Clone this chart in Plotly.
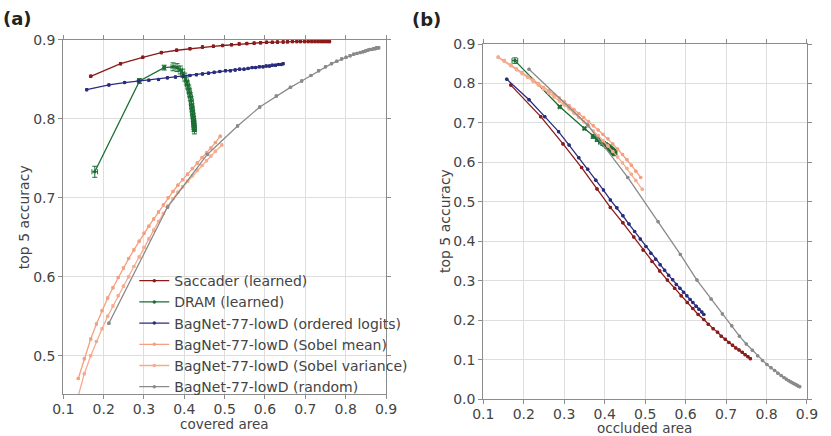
import plotly.graph_objects as go

# ---- data ----
names = ["Saccader (learned)", "DRAM (learned)", "BagNet-77-lowD (ordered logits)",
         "BagNet-77-lowD (Sobel mean)", "BagNet-77-lowD (Sobel variance)", "BagNet-77-lowD (random)"]
colors = ["#8b1a1a", "#1b6e33", "#2a2d7e", "#f4a080", "#f7ab8d", "#8a8a8a"]

sacc_area = [0.168, 0.242, 0.297, 0.343, 0.381, 0.414, 0.445, 0.472, 0.495, 0.517, 0.536, 0.555, 0.573,
             0.589, 0.604, 0.618, 0.631, 0.645, 0.656, 0.668, 0.679, 0.688, 0.698, 0.707, 0.716, 0.724,
             0.732, 0.740, 0.747, 0.754, 0.760]
sacc_cov = [0.854, 0.870, 0.878, 0.884, 0.887, 0.889, 0.891, 0.892, 0.893, 0.894, 0.895, 0.8955, 0.896,
            0.8965, 0.897, 0.897, 0.8973, 0.8975, 0.8977, 0.898, 0.898, 0.898, 0.898, 0.898, 0.898, 0.898,
            0.898, 0.898, 0.898, 0.898, 0.898]
sacc_occ = [0.796, 0.716, 0.647, 0.587, 0.533, 0.486, 0.447, 0.411, 0.378, 0.349, 0.325, 0.302, 0.281,
            0.262, 0.245, 0.230, 0.215, 0.202, 0.190, 0.179, 0.170, 0.160, 0.152, 0.144, 0.137, 0.130,
            0.125, 0.119, 0.113, 0.108, 0.103]

dram_area = [0.178, 0.289, 0.350, 0.372, 0.382, 0.390, 0.396, 0.401, 0.405, 0.408, 0.411, 0.413, 0.415,
             0.417, 0.418, 0.419, 0.420, 0.421, 0.422, 0.423, 0.4235, 0.424, 0.4245, 0.425]
dram_cov = [0.733, 0.848, 0.865, 0.866, 0.865, 0.862, 0.858, 0.853, 0.848, 0.843, 0.838, 0.833, 0.828,
            0.823, 0.818, 0.814, 0.810, 0.806, 0.802, 0.798, 0.795, 0.792, 0.789, 0.786]
dram_occ = [0.858, 0.741, 0.686, 0.666, 0.658, 0.652, 0.648, 0.645, 0.642, 0.640, 0.638, 0.636, 0.634,
            0.632, 0.631, 0.630, 0.629, 0.628, 0.627, 0.626, 0.625, 0.624, 0.623, 0.622]
dram_err = [0.007, 0.003, 0.003, 0.005, 0.005, 0.005, 0.005, 0.005, 0.005, 0.005, 0.005, 0.005, 0.005,
            0.005, 0.005, 0.005, 0.005, 0.005, 0.005, 0.005, 0.005, 0.005, 0.005, 0.005]

logit_area = [0.158, 0.213, 0.252, 0.286, 0.312, 0.336, 0.358, 0.378, 0.397, 0.414, 0.430, 0.445, 0.460,
              0.474, 0.488, 0.502, 0.514, 0.526, 0.537, 0.548, 0.558, 0.568, 0.577, 0.586, 0.595, 0.603,
              0.611, 0.618, 0.626, 0.633, 0.640, 0.645]
logit_cov = [0.837, 0.843, 0.846, 0.848, 0.849, 0.850, 0.852, 0.853, 0.854, 0.855, 0.856, 0.857, 0.858,
             0.859, 0.860, 0.861, 0.861, 0.862, 0.863, 0.863, 0.864, 0.865, 0.865, 0.866, 0.866, 0.867,
             0.867, 0.868, 0.868, 0.869, 0.869, 0.870]
logit_occ = [0.811, 0.759, 0.716, 0.678, 0.644, 0.612, 0.583, 0.555, 0.530, 0.505, 0.485, 0.465, 0.444,
             0.425, 0.406, 0.387, 0.370, 0.355, 0.341, 0.327, 0.314, 0.303, 0.291, 0.281, 0.271, 0.262,
             0.253, 0.245, 0.236, 0.228, 0.221, 0.215]

mean_area = [0.137, 0.152, 0.168, 0.182, 0.196, 0.210, 0.223, 0.236, 0.249, 0.262, 0.275, 0.288, 0.300,
             0.312, 0.324, 0.336, 0.348, 0.360, 0.372, 0.384, 0.396, 0.408, 0.420, 0.432, 0.444, 0.455,
             0.466, 0.477, 0.489]
mean_cov = [0.471, 0.496, 0.521, 0.540, 0.557, 0.573, 0.586, 0.599, 0.611, 0.623, 0.634, 0.645, 0.655,
            0.664, 0.673, 0.682, 0.691, 0.700, 0.708, 0.716, 0.723, 0.730, 0.737, 0.744, 0.751, 0.757,
            0.763, 0.770, 0.778]
mean_occ = [0.867, 0.858, 0.847, 0.837, 0.828, 0.818, 0.809, 0.800, 0.790, 0.781, 0.772, 0.763, 0.754,
            0.744, 0.734, 0.724, 0.714, 0.704, 0.693, 0.682, 0.671, 0.660, 0.647, 0.634, 0.620, 0.607,
            0.593, 0.578, 0.562]

var_area = [0.137, 0.152, 0.168, 0.182, 0.196, 0.210, 0.223, 0.236, 0.249, 0.262, 0.275, 0.288, 0.300,
            0.312, 0.324, 0.336, 0.348, 0.360, 0.372, 0.384, 0.396, 0.408, 0.420, 0.432, 0.444, 0.455,
            0.466, 0.477, 0.493]
var_cov = [0.449, 0.477, 0.500, 0.518, 0.534, 0.550, 0.563, 0.576, 0.588, 0.600, 0.613, 0.625, 0.637,
           0.648, 0.659, 0.670, 0.680, 0.690, 0.699, 0.707, 0.714, 0.721, 0.728, 0.735, 0.741, 0.747,
           0.753, 0.759, 0.767]
var_occ = [0.866, 0.856, 0.845, 0.835, 0.825, 0.815, 0.806, 0.796, 0.786, 0.776, 0.766, 0.756, 0.746,
           0.736, 0.725, 0.714, 0.703, 0.692, 0.680, 0.668, 0.655, 0.642, 0.628, 0.614, 0.599, 0.585,
           0.570, 0.554, 0.532]

rand_area = [0.213, 0.358, 0.457, 0.532, 0.587, 0.628, 0.663, 0.691, 0.714, 0.733, 0.750, 0.765, 0.778,
             0.790, 0.801, 0.811, 0.820, 0.828, 0.836, 0.843, 0.849, 0.855, 0.860, 0.865, 0.869, 0.873,
             0.876, 0.879, 0.882]
rand_cov = [0.541, 0.688, 0.755, 0.791, 0.815, 0.829, 0.840, 0.848, 0.855, 0.861, 0.866, 0.870, 0.873,
            0.876, 0.878, 0.880, 0.882, 0.883, 0.884, 0.885, 0.886, 0.887, 0.888, 0.888, 0.889, 0.889,
            0.890, 0.890, 0.890]
rand_occ = [0.836, 0.695, 0.562, 0.450, 0.367, 0.302, 0.254, 0.216, 0.186, 0.160, 0.140, 0.124, 0.110,
            0.098, 0.088, 0.080, 0.073, 0.066, 0.060, 0.055, 0.051, 0.047, 0.044, 0.041, 0.039, 0.037,
            0.035, 0.033, 0.032]

x_ticks = [0.1, 0.2, 0.3, 0.4, 0.5, 0.6, 0.7, 0.8, 0.9]
y_ticks_a = [0.5, 0.6, 0.7, 0.8, 0.9]
y_ticks_b = [0.0, 0.1, 0.2, 0.3, 0.4, 0.5, 0.6, 0.7, 0.8, 0.9]

series = [
    (sacc_area, sacc_cov, sacc_occ, 0.0015),
    (dram_area, dram_cov, dram_occ, dram_err),
    (logit_area, logit_cov, logit_occ, 0.0012),
    (mean_area, mean_cov, mean_occ, 0.0012),
    (var_area, var_cov, var_occ, 0.0012),
    (rand_area, rand_cov, rand_occ, 0.0012),
]

fig = go.Figure()

for i, (area, cov, occ, err) in enumerate(series):
    for panel, yv in (("", cov), ("2", occ)):
        if isinstance(err, list):
            ex = dict(type="data", array=err, color=colors[i], thickness=1, width=2.5)
        else:
            ex = dict(type="constant", value=err, color=colors[i], thickness=1, width=1.5)
        fig.add_trace(go.Scatter(
            x=area, y=yv, mode="lines+markers", name=names[i],
            line=dict(color=colors[i], width=1.3),
            marker=dict(color=colors[i], size=3.5),
            error_x=ex, error_y=ex,
            xaxis="x" + panel, yaxis="y" + panel,
            showlegend=(panel == ""),
        ))

axis_style = dict(
    showline=True, linecolor="#8c8c8c", linewidth=1.2, mirror="allticks",
    ticks="outside", ticklen=4, tickcolor="#8c8c8c", automargin=False,
    showgrid=True, gridcolor="#dedede", gridwidth=1, zeroline=False,
    tickfont=dict(size=14, color="#444444"), tickformat=".1f",
)

def label(text, x, y, angle=0, size=14, bold=False):
    return dict(text=f"<b>{text}</b>" if bold else text, x=x, y=y, xref="paper", yref="paper",
                xanchor="center", yanchor="middle", textangle=angle, showarrow=False,
                font=dict(size=size, color="#222222" if bold else "#444444"))

fig.update_layout(
    width=831, height=436,
    margin=dict(l=0, r=0, t=0, b=0),
    paper_bgcolor="white", plot_bgcolor="white",
    font=dict(family="DejaVu Sans", color="#444444"),
    xaxis=dict(axis_style, domain=[0.0762, 0.4645], range=[0.1, 0.9], tickvals=x_ticks, anchor="y",
               ticklabelstandoff=-2),
    yaxis=dict(axis_style, domain=[0.0956, 0.9083], range=[0.451, 0.9], tickvals=y_ticks_a, anchor="x"),
    xaxis2=dict(axis_style, domain=[0.5816, 0.9711], range=[0.1, 0.9], tickvals=x_ticks, anchor="y2",
                ticklabelstandoff=-2),
    yaxis2=dict(axis_style, domain=[0.0842, 0.899], range=[0.0, 0.9], tickvals=y_ticks_b, anchor="x2"),
    legend=dict(x=0.1616, y=0.392, xanchor="left", yanchor="top", bgcolor="rgba(0,0,0,0)",
                font=dict(size=14, color="#444444"), tracegroupgap=0, itemwidth=30),
    annotations=[
        label("(a)", 0.0205, 0.958, size=18, bold=True),
        label("(b)", 0.513, 0.955, size=18, bold=True),
        label("covered area", 0.270, 0.028, size=13.5),
        label("occluded area", 0.7756, 0.019, size=13.5),
        label("top 5 accuracy", 0.029, 0.502, angle=-90),
        label("top 5 accuracy", 0.5355, 0.493, angle=-90),
    ],
)

# drop the browser's default body margin so the figure sits at the window's corner
fig.write_html("out.html", config={"displayModeBar": False},
               post_script="document.body.style.margin='0';")
